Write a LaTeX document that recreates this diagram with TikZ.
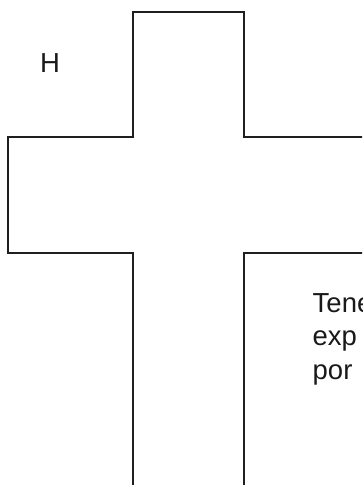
\documentclass[tikz,border=0pt]{standalone}
\usepackage{fontspec}
\setmainfont{Liberation Sans}
\usetikzlibrary{positioning}

\begin{document}
\begin{tikzpicture}[x=1pt, y=-1pt, font=\fontsize{27.5}{33}\selectfont,
  every node/.style={inner sep=0pt, anchor=base west, text=black!90},
  outline/.style={line width=2.3pt, draw=black!88, line join=miter}]
  \useasboundingbox (0,0) rectangle (362,485);
  \clip (0,0) rectangle (362,485);
  % cross outline, runs off the right and bottom edges
  \draw[outline] (370,137) -- (244,137) -- (244,12) -- (133,12) -- (133,137)
    -- (8,137) -- (8,253) -- (133,253) -- (133,495);
  \draw[outline] (244,495) -- (244,253) -- (370,253);
  \node (h) at (40,72) {H};
  \node (l1) at (312.5,312) {Tene};
  \node (l2) at (312.5,345.5) {exp};
  \node (l3) at (312.5,379) {por};
\end{tikzpicture}
\end{document}
